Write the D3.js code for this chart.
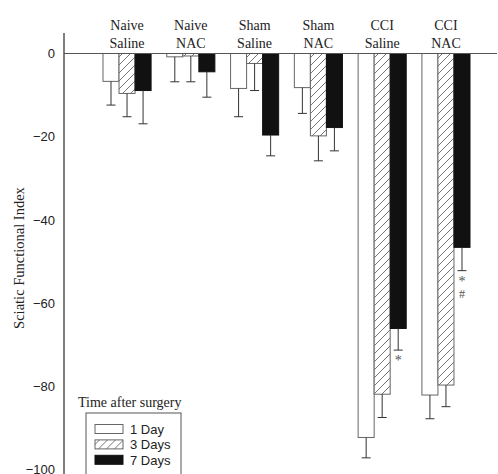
<!DOCTYPE html>
<html>
  <head>
    <meta charset="utf-8"/>
    <title>Sciatic Functional Index</title>
    <style type="text/css">
body {
  margin: 0;
  background: #fff;
}
.grp {
  font-family: "Liberation Serif", "Times New Roman", serif;
  font-size: 14px;
  fill: #222;
}
.tick text {
  font-family: "Liberation Sans", Arial, sans-serif;
  font-size: 13px;
  fill: #222;
}
    </style>
  </head>
  <body>
    <div id="chart"></div>
    <script src="https://cdn.jsdelivr.net/npm/d3@7/dist/d3.min.js"></script>
    <script>
    // groups along the x axis, two lines each
    const groups = ["Naive Saline", "Naive NAC", "Sham Saline", "Sham NAC", "CCI Saline", "CCI NAC"];
    const series = ["1 Day", "3 Days", "7 Days"];

    // mean SFI per group, one array per time point
    const day1 = [-6.7, -0.8, -8.4, -8.2, -92.3, -82.1];
    const day3 = [-9.6, -0.6, -2.4, -19.8, -81.9, -79.7];
    const day7 = [-8.9, -4.4, -19.6, -17.8, -66.1, -46.6];
    // lower end of error bars
    const err1 = [-12.4, -6.8, -15.2, -14.4, -97.2, -87.8];
    const err3 = [-15.2, -6.8, -8.9, -25.8, -87.5, -84.9];
    const err7 = [-16.9, -10.5, -24.6, -23.4, -71.3, -52.2];

    const yTicks = [0, -20, -40, -60, -80, -100];
    // significance marks under error bars: group, series, text
    const marks = [["CCI Saline", "7 Days", "*"], ["CCI NAC", "7 Days", "*"], ["CCI NAC", "7 Days", "#"]];

    const width = 498, height = 474;
    const svg = d3.select("#chart").append("svg")
        .attr("width", width)
        .attr("height", height);

    const defs = svg.append("defs");
    const pat = defs.append("pattern")
        .attr("id", "hatch")
        .attr("patternUnits", "userSpaceOnUse")
        .attr("width", 8)
        .attr("height", 8);
    pat.append("rect").attr("width", 8).attr("height", 8).attr("fill", "#fff");
    pat.append("path")
        .attr("d", "M-2,10 L10,-2 M-2,2 L2,-2 M6,10 L10,6")
        .attr("stroke", "#666")
        .attr("stroke-width", 0.9);

    const fills = ["#fff", "url(#hatch)", "#111"];

    const x = d3.scaleBand().domain(groups).range([103, 470]).paddingInner(0.246).paddingOuter(0);
    const xs = d3.scaleBand().domain(series).range([0, x.bandwidth()]);
    const y = d3.scaleLinear().domain([-100, 0]).range([469.5, 53.5]);

    const means = [day1, day3, day7];
    const errs = [err1, err3, err7];
    const rows = [];
    groups.forEach((g, i) => {
      series.forEach((s, j) => {
        rows.push({g: g, s: s, j: j, v: means[j][i], e: errs[j][i]});
      });
    });

    // bars
    svg.append("g").selectAll("rect")
        .data(rows)
        .enter()
        .append("rect")
        .attr("x", d => x(d.g) + xs(d.s))
        .attr("y", y(0))
        .attr("width", xs.bandwidth())
        .attr("height", d => y(d.v) - y(0))
        .attr("fill", d => fills[d.j])
        .attr("stroke", d => d.j == 2 ? "#111" : "#666")
        .attr("stroke-width", 1);

    // error bars
    const eb = svg.append("g").attr("stroke", "#333").attr("stroke-width", 1);
    rows.forEach(d => {
      const cx = x(d.g) + xs(d.s) + xs.bandwidth() / 2;
      eb.append("line").attr("x1", cx).attr("x2", cx).attr("y1", y(d.v)).attr("y2", y(d.e));
      eb.append("line").attr("x1", cx - 4.5).attr("x2", cx + 4.5).attr("y1", y(d.e)).attr("y2", y(d.e));
    });

    // significance marks
    marks.forEach((m, k) => {
      const i = groups.indexOf(m[0]), j = series.indexOf(m[1]);
      const prev = marks.slice(0, k).filter(n => n[0] == m[0] && n[1] == m[1]).length;
      svg.append("text")
          .attr("class", "grp")
          .attr("x", x(m[0]) + xs(m[1]) + xs.bandwidth() / 2)
          .attr("y", y(errs[j][i]) + 15 + prev * 12.5)
          .attr("text-anchor", "middle")
          .style("font-size", m[2] == "*" ? "14px" : "12px")
          .style("fill", "#555")
          .text(m[2]);
    });

    // zero line
    svg.append("line")
        .attr("x1", 64).attr("x2", 497)
        .attr("y1", y(0)).attr("y2", y(0))
        .attr("stroke", "#555").attr("stroke-width", 1.2);

    // y axis
    const yAxis = svg.append("g")
        .attr("transform", "translate(64,0)")
        .call(d3.axisLeft(y).tickValues(yTicks).tickSize(0).tickPadding(9));
    yAxis.select(".domain").remove();
    svg.append("line")
        .attr("x1", 64).attr("x2", 64)
        .attr("y1", 33).attr("y2", height)
        .attr("stroke", "#555").attr("stroke-width", 1.5);

    svg.append("text")
        .attr("class", "grp")
        .attr("transform", "translate(24," + 258 + ") rotate(-90)")
        .attr("text-anchor", "middle")
        .style("font-size", "14.5px")
        .text("Sciatic Functional Index");

    // group labels
    const gl = svg.append("g").selectAll("text")
        .data(groups)
        .enter()
        .append("text")
        .attr("class", "grp")
        .attr("text-anchor", "middle")
        .attr("x", d => x(d) + x.bandwidth() / 2);
    gl.append("tspan").attr("x", d => x(d) + x.bandwidth() / 2).attr("y", 30).text(d => d.split(" ")[0]);
    gl.append("tspan").attr("x", d => x(d) + x.bandwidth() / 2).attr("y", 48).text(d => d.split(" ")[1]);

    // legend
    svg.append("text")
        .attr("class", "grp")
        .attr("x", 78).attr("y", 407)
        .text("Time after surgery");
    svg.append("rect")
        .attr("x", 86).attr("y", 413)
        .attr("width", 95).attr("height", 70)
        .attr("fill", "#fff").attr("stroke", "#555").attr("stroke-width", 1);
    const lg = svg.append("g").selectAll("g")
        .data(series)
        .enter()
        .append("g")
        .attr("transform", (d, j) => "translate(95," + (429 + j * 15.4) + ")");
    lg.append("rect")
        .attr("x", 0).attr("y", -4.5)
        .attr("width", 28).attr("height", 9)
        .attr("fill", (d, j) => fills[j])
        .attr("stroke", (d, j) => j == 2 ? "#111" : "#666");
    lg.append("text")
        .attr("x", 35).attr("y", 5)
        .style("font-family", "\"Liberation Sans\", Arial, sans-serif")
        .style("font-size", "13px")
        .style("fill", "#222")
        .text(d => d);
    </script>
  </body>
</html>
